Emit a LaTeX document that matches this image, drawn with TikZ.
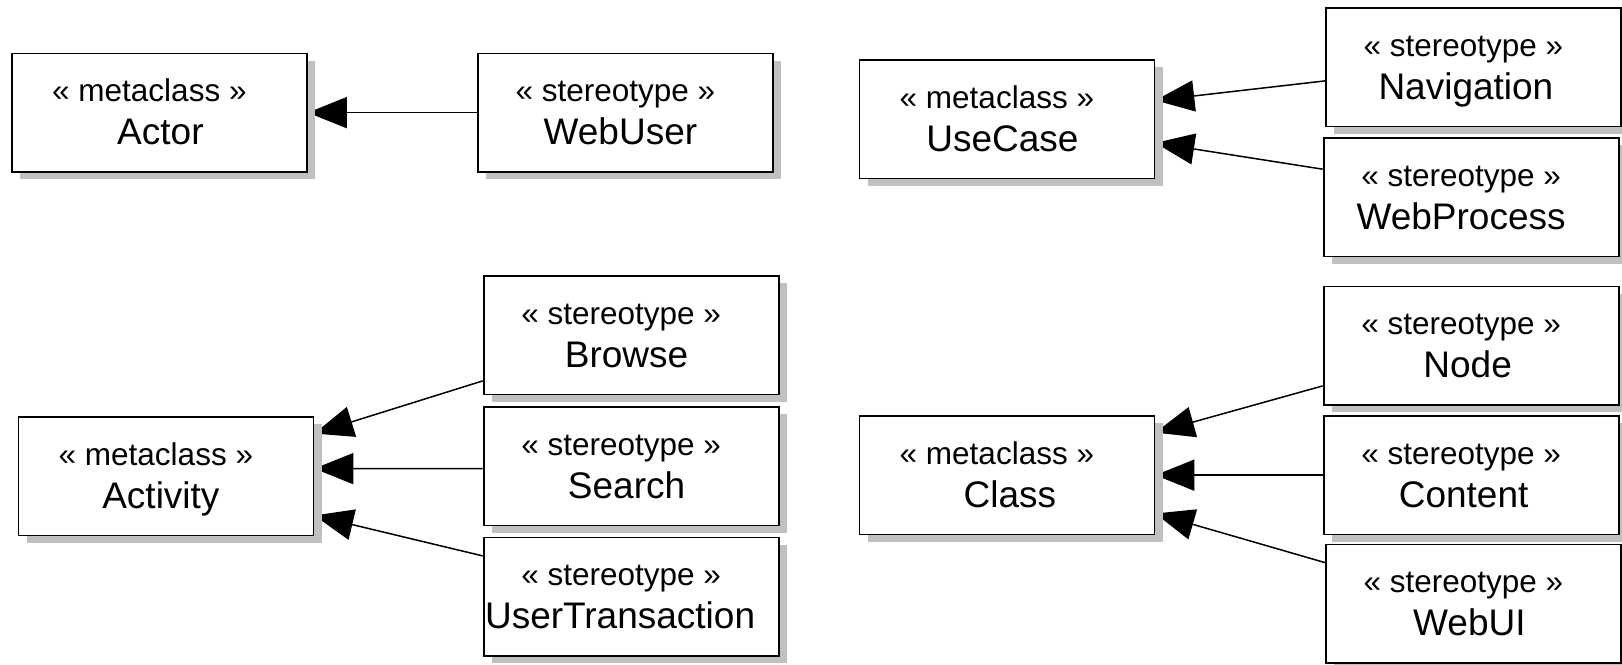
\documentclass[tikz,border=0pt]{standalone}
\usepackage{fontspec}
\setmainfont{Liberation Sans}
\usetikzlibrary{arrows.meta,shadows}

\definecolor{shadowgrey}{RGB}{192,192,192}

\pgfdeclarelayer{background}
\pgfsetlayers{background,main}

\tikzset{
  umlbox/.style={draw, line width=1.8pt, fill=white, anchor=north west,
    minimum width=295pt, minimum height=118.5pt, inner sep=0pt,
    drop shadow={shadow xshift=8.5pt, shadow yshift=-7.5pt,
      fill=shadowgrey, opacity=1}},
  stereo/.style={anchor=base, inner sep=0pt,
    font=\fontsize{31.5}{38}\selectfont},
  elname/.style={anchor=base, inner sep=0pt,
    font=\fontsize{37}{44}\selectfont},
  gen/.style={line width=1.5pt, -{Triangle[length=39pt,width=31pt]}},
}

% #1 node name, #2 top-left corner, #3 stereotype keyword,
% #4 element name, #5 horizontal shift of the element name
\newcommand\umlstereobox[5]{%
  \node[umlbox] (#1) at #2 {};
  \node[stereo] (#1-st) at ([xshift=-10pt,yshift=-49pt]#1.north) {« #3 »};
  \node[elname] (#1-nm) at ([xshift=#5,yshift=-92pt]#1.north) {#4};
}

\begin{document}
\begin{tikzpicture}[x=1pt,y=-1pt]
  \useasboundingbox (0,0) rectangle (1622,664);

  % metaclasses
  \umlstereobox{actor}{(11,52.5)}{metaclass}{Actor}{1pt}
  \umlstereobox{usecase}{(858.5,59)}{metaclass}{UseCase}{-4.5pt}
  \umlstereobox{activity}{(17.5,416)}{metaclass}{Activity}{-5pt}
  \umlstereobox{class}{(858.5,415)}{metaclass}{Class}{3pt}

  % stereotypes
  \umlstereobox{webuser}{(477,52.5)}{stereotype}{WebUser}{-5pt}
  \umlstereobox{navigation}{(1325,7)}{stereotype}{Navigation}{-7.5pt}
  \umlstereobox{webprocess}{(1322.7,137)}{stereotype}{WebProcess}{-10pt}
  \umlstereobox{browse}{(482.7,275)}{stereotype}{Browse}{-4.5pt}
  \umlstereobox{search}{(482.7,406)}{stereotype}{Search}{-4.5pt}
  \umlstereobox{usertx}{(482.7,536.5)}{stereotype}{UserTransaction}{-11pt}
  \umlstereobox{nodebox}{(1322.7,285.5)}{stereotype}{Node}{-3.5pt}
  \umlstereobox{content}{(1322.7,415)}{stereotype}{Content}{-7.5pt}
  \umlstereobox{webui}{(1325,543.5)}{stereotype}{WebUI}{-4pt}

  % extension connectors, kept beneath boxes and shadows
  \begin{pgfonlayer}{background}
    \draw[gen] (webuser.west) -- (actor.east);

    \draw[gen] ([yshift=-13.75pt]navigation.west) -- ([yshift=18.75pt]usecase.east);
    \draw[gen] ([yshift=27.95pt]webprocess.west) -- ([yshift=-23.75pt]usecase.east);

    \draw[gen] ([yshift=-45.75pt]browse.west) -- ([yshift=42.6pt]activity.east);
    \draw[gen] ([yshift=-2.5pt]search.west) -- ([yshift=7.55pt]activity.east);
    \draw[gen] ([yshift=40.75pt]usertx.west) -- ([yshift=-39.35pt]activity.east);

    \draw[gen] ([yshift=-40.25pt]nodebox.west) -- ([yshift=42.55pt]class.east);
    \draw[gen] (content.west) -- (class.east);
    \draw[gen] ([yshift=41.05pt]webui.west) -- ([yshift=-38.35pt]class.east);
  \end{pgfonlayer}
\end{tikzpicture}
\end{document}
